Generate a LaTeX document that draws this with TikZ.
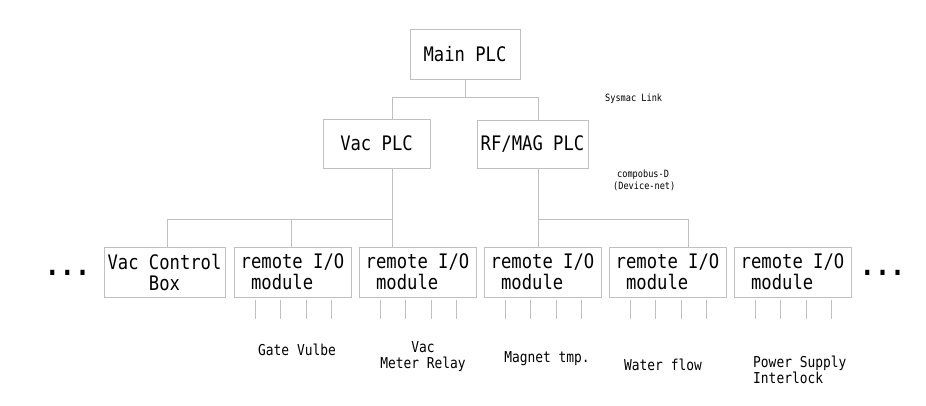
\documentclass[tikz,border=0pt]{standalone}
\usepackage{fontspec}
\newfontfamily\dg[FakeStretch=0.86]{DejaVu Sans Mono}
\usetikzlibrary{calc}
\definecolor{ln}{RGB}{192,192,192}
\begin{document}
\begin{tikzpicture}[x=1pt,y=-1pt,
  box/.style={draw=ln, line width=0.8pt, inner sep=0pt, font=\dg\fontsize{20}{21}\selectfont, align=center},
  rio/.style={box, minimum width=117pt, minimum height=50pt, align=left},
  wire/.style={draw=ln, line width=0.8pt},
  lab/.style={font=\dg\fontsize{15}{16}\selectfont, inner sep=0pt, align=center},
  small/.style={font=\dg\fontsize{10}{13}\selectfont, inner sep=0pt, align=left},
  dots/.style={font=\dg\bfseries\fontsize{29}{30}\selectfont, inner sep=0pt}]
\fill[white] (0,0) rectangle (926,406);
\useasboundingbox (0,0) rectangle (926,406);

% PLC boxes
\node[box, minimum width=110pt, minimum height=50pt] (main) at (465,54) {Main PLC};
\node[box, minimum width=107pt, minimum height=49pt] (vac) at (376.5,143.5) {Vac PLC};
\node[box, minimum width=111pt, minimum height=48pt] (rf) at (532.5,144) {RF/MAG PLC};

% bottom row
\node[box, minimum width=121pt, minimum height=50pt] (vcb) at (164.5,272) {Vac Control\\Box};
\node[rio] (r1) at (292.5,272) {remote I/O\\~module};
\node[rio] (r2) at (417.5,272) {remote I/O\\~module};
\node[rio] (r3) at (542.5,272) {remote I/O\\~module};
\node[rio] (r4) at (667.5,272) {remote I/O\\~module};
\node[rio] (r5) at (792.5,272) {remote I/O\\~module};

\node[dots, anchor=base] (dl) at (67.5,275) {...};
\node[dots, anchor=base] (dr) at (882.5,275) {...};

% Sysmac link
\coordinate (b1l) at (392,97);
\coordinate (b1r) at (538,97);
\draw[wire] (main.south) -- (main.south |- b1l);
\draw[wire] (b1l) -- (b1r);
\draw[wire] (b1l) -- (b1l |- vac.north);
\draw[wire] (b1r) -- (b1r |- rf.north);

% compobus-D
\coordinate (b2l) at (167,219);
\coordinate (b2m) at (291,219);
\coordinate (b2r) at (392,219);
\draw[wire] (b1l |- vac.south) -- (b2r);
\draw[wire] (b2l) -- (b2r);
\draw[wire] (b2l) -- (b2l |- vcb.north);
\draw[wire] (b2m) -- (b2m |- r1.north);
\draw[wire] (b2r) -- (b2r |- r2.north);
\coordinate (b3l) at (538,219);
\coordinate (b3r) at (688,219);
\draw[wire] (b1r |- rf.south) -- (b3l) -- (b3r);
\draw[wire] (b3l) -- (b3l |- r3.north);
\draw[wire] (b3r) -- (b3r |- r4.north);

% I/O ticks
\foreach \r in {r1,r2,r3,r4,r5}
  \foreach \dx in {21.5,47,72.5,98}
    \draw[wire] ($(\r.south west)+(\dx,3)$) -- ++(0,19);

% labels
\node[small, anchor=base west] (sl) at (605,102) {Sysmac Link};
\node[small, anchor=base west] (cb) at (613,190) {\hspace*{4pt}compobus-D\\(Device-net)};
\node[lab, anchor=base] (gv) at (297,355) {Gate Vulbe};
\node[lab, anchor=base] (vmr) at (423,368) {Vac\\Meter Relay};
\node[lab, anchor=base] (mt) at (547,362) {Magnet tmp.};
\node[lab, anchor=base] (wf) at (663,370) {Water flow};
\node[lab, anchor=base west, align=left] (ps) at (753,383) {Power Supply\\Interlock};
\end{tikzpicture}
\end{document}
